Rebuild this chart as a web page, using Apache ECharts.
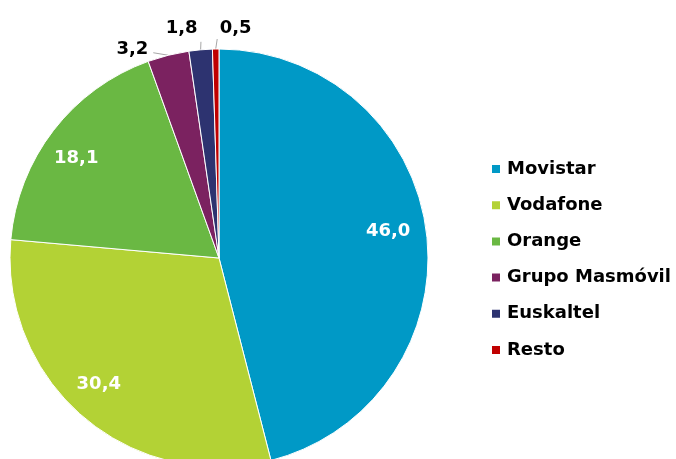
<!DOCTYPE html>
<html><head><meta charset="utf-8">
<script src="https://cdn.jsdelivr.net/npm/echarts@6/dist/echarts.min.js"></script>
<style>html,body{margin:0;padding:0;background:#fff}#c{width:676px;height:459px}</style>
</head><body><div id="c"></div>
<script>
const categories = ['Movistar','Vodafone','Orange','Grupo Masmóvil','Euskaltel','Resto'];
const values = [46.0, 30.4, 18.1, 3.2, 1.8, 0.5];
const colors = ['#0099C6','#B3D235','#6AB843','#7B2260','#2D3370','#C00000'];
const insideThreshold = 10;

const fmt = v => v.toFixed(1).replace('.', ',');
const font = '"DejaVu Sans", Verdana, sans-serif';

const baseData = categories.map((n,i)=>({name:n, value:values[i], itemStyle:{color:colors[i]},
  label:{show: values[i] < insideThreshold}, labelLine:{show: values[i] < insideThreshold}}));
const overlayData = categories.map((n,i)=>({name:n, value:values[i],
  label:{show: values[i] >= insideThreshold}}));

// outside-label placement relative to each slice's edge point
function outsideLayout(p){
  if (!p.labelLinePoints) return;
  const e = p.labelLinePoints[0];
  const i = p.dataIndex;
  if (i === 3) return {x:e[0]-20, y:e[1]-6, align:'right', verticalAlign:'middle',
    labelLinePoints:[e,[e[0]-15,e[1]-2.5],[e[0]-15,e[1]-2.5]]};
  if (i === 4) return {x:e[0]-3, y:e[1]-12, align:'right', verticalAlign:'bottom',
    labelLinePoints:[e,[e[0]+0.3,e[1]-8],[e[0]+0.3,e[1]-8]]};
  if (i === 5) return {x:e[0]+4, y:e[1]-12, align:'left', verticalAlign:'bottom',
    labelLinePoints:[e,[e[0]+1.5,e[1]-10],[e[0]+1.5,e[1]-10]]};
}
function insideLayout(p){
  if (p.dataIndex === 0) return {dx:-6, dy:-5};
  if (p.dataIndex === 1) return {dx:-6, dy:-8};
  if (p.dataIndex === 2) return {dx:-3, dy:8};
}

const chart = echarts.init(document.getElementById('c'));
chart.setOption({
  animation:false,
  legend:{orient:'vertical', left:490, top:160, padding:0, itemWidth:10, itemHeight:10, itemGap:18.2,
    icon:'rect', data:categories,
    textStyle:{fontFamily:font, fontWeight:'bold', fontSize:18, lineHeight:18, color:'#000', padding:[0,0,0,1]}},
  series:[
    {type:'pie', center:[219,258], radius:209, startAngle:90, clockwise:true,
     itemStyle:{borderColor:'#fff', borderWidth:1},
     label:{position:'outside', formatter:p=>fmt(p.value), fontFamily:font, fontWeight:'bold', fontSize:18, color:'#000'},
     labelLine:{length:10, length2:8, lineStyle:{color:'#A6A6A6', width:1}},
     labelLayout: outsideLayout,
     data:baseData},
    {type:'pie', center:[219,258], radius:[138,209], startAngle:90, clockwise:true, silent:true,
     legendHoverLink:false,
     itemStyle:{color:'rgba(0,0,0,0)'},
     label:{position:'inside', formatter:p=>fmt(p.value), fontFamily:font, fontWeight:'bold', fontSize:18, color:'#fff'},
     labelLine:{show:false},
     labelLayout: insideLayout,
     data:overlayData}
  ]
});
</script></body></html>
